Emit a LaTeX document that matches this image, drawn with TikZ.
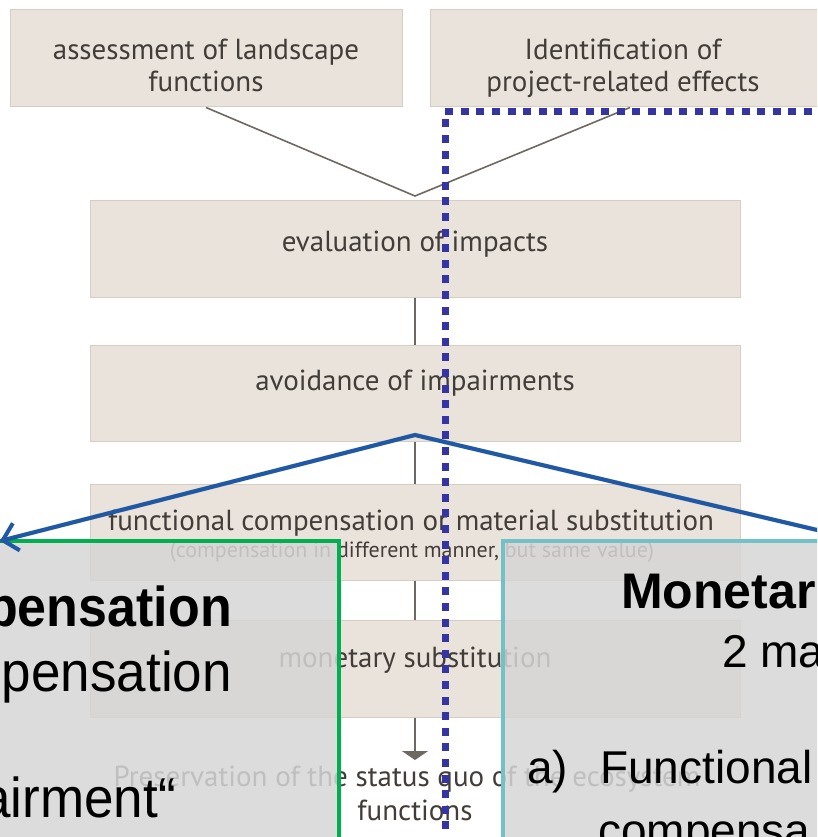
\documentclass[tikz,border=0pt]{standalone}
\usepackage{fontspec}
\setmainfont{PT Sans}
\newfontfamily\arialf{Liberation Sans}
\usetikzlibrary{arrows.meta}
\definecolor{boxfill}{HTML}{E9E3DB}
\definecolor{boxline}{HTML}{D6CEC5}
\definecolor{boxtext}{HTML}{433D39}
\definecolor{connc}{HTML}{6E6863}
\definecolor{arrblue}{HTML}{1F58A5}
\definecolor{dotblue}{HTML}{3434A2}
\definecolor{grn}{HTML}{00B050}
\definecolor{tealb}{HTML}{72C1C9}
\definecolor{panelgray}{HTML}{D6D6D6}
\begin{document}
\begin{tikzpicture}[x=1pt,y=-1pt,
  box/.style={draw=boxline, line width=1pt, fill=boxfill, inner sep=0pt},
  dtext/.style={text=boxtext, inner sep=0pt, font=\fontsize{29}{33}\selectfont},
  subtext/.style={text=boxtext, inner sep=0pt, font=\fontsize{22}{25}\selectfont},
  conn/.style={draw=connc, line width=1.6pt},
  panel/.style={fill=panelgray, fill opacity=0.85},
  ptext/.style={inner sep=0pt, text=black, font=\arialf\fontsize{46}{52}\selectfont},
  ptextb/.style={inner sep=0pt, text=black, font=\arialf\bfseries\fontsize{50}{56}\selectfont},
  ltext/.style={inner sep=0pt, text=black, font=\arialf\fontsize{53}{58}\selectfont},
  ltextb/.style={inner sep=0pt, text=black, font=\arialf\bfseries\fontsize{52}{58}\selectfont},
  bluearr/.style={draw=arrblue, line width=4pt},
  shadowarr/.style={draw=black, opacity=0.18, line width=4.5pt},
  dotline/.style={draw=dotblue, line width=7pt, dash pattern=on 8pt off 7.6pt}
]
\useasboundingbox (0,0) rectangle (817,837);
\clip (0,0) rectangle (817,837);
\fill[white] (0,0) rectangle (817,837);

% boxes
\node[box, minimum width=392pt, minimum height=97pt] (b1) at (206,58.5) {};
\node[box, minimum width=400pt, minimum height=97pt] (b2) at (630,58.5) {};
\node[box, minimum width=650pt, minimum height=97pt] (b3) at (415,248.5) {};
\node[box, minimum width=650pt, minimum height=96pt] (b4) at (415,393) {};
\node[box, minimum width=650pt, minimum height=96pt] (b5) at (415,532) {};
\node[box, minimum width=650pt, minimum height=97pt] (b6) at (415,668.5) {};

% box texts
\node[dtext, anchor=base] (t1a) at (206,60) {assessment of landscape};
\node[dtext, anchor=base] (t1b) at (206,92) {functions};
\node[dtext, anchor=base] (t2a) at (623,60) {Identification of};
\node[dtext, anchor=base] (t2b) at (623,92) {project-related effects};
\node[dtext, anchor=base] (t3) at (415,251) {evaluation of impacts};
\node[dtext, anchor=base] (t4) at (415,390) {avoidance of impairments};
\node[dtext, anchor=base] (t5a) at (411,530) {functional compensation or material substitution};
\node[subtext, anchor=base] (t5b) at (412,557) {(compensation in different manner, but same value)};
\node[dtext, anchor=base] (t6) at (415,667) {monetary substitution};
\node[dtext, anchor=base] (t7a) at (407,786) {Preservation of the status quo of the ecosystem};
\node[dtext, anchor=base] (t7b) at (415,820) {functions};

% connectors
\coordinate (v) at (415,196);
\draw[conn] (b1.south) -- (v) -- (b2.south);
\draw[conn] (b3.south) -- (b4.north);
\draw[conn] (b4.south) -- (b5.north);
\draw[conn] (b5.south) -- (b6.north);
\coordinate (pres) at (415,760);
\draw[conn, -{Triangle[width=26pt,length=9pt]}] (b6.south) -- (pres);

% overlay panels
\fill[panel] (-10,541) rectangle (339,850);
\draw[grn, line width=4pt] (-10,541) -- (339,541) -- (339,850);
\fill[panel] (503,541) rectangle (830,850);
\draw[tealb, line width=4.5pt] (503,850) -- (503,541) -- (830,541);

% blue arrows
\coordinate (apex) at (415,435);
\coordinate (lt) at (0,541);
\coordinate (rt) at (840,535.4);
\begin{scope}[shift={(1.5,2.5)}]
\draw[shadowarr] (lt) -- (apex) -- (rt);
\end{scope}
\draw[bluearr, line join=miter, -{Straight Barb[length=14pt,width=28pt]}] (rt) -- (apex) -- (lt);

% panel texts
\node[ltextb, anchor=base east] (l1) at (232,626) {\scalebox{1}[1.08]{pensation}};
\node[ltext, anchor=base east] (l2) at (232,691) {\scalebox{1}[1.06]{pensation}};
\node[ltext, anchor=base east] (l3) at (176,817) {\scalebox{1}[1.06]{airment“}};
\node[ptextb, anchor=base west] (r1) at (621,608) {Monetar};
\node[ptext, anchor=base west] (r2) at (722,667) {2 ma};
\node[ptext, anchor=base west] (r3) at (527,783) {a)};
\node[ptext, anchor=base west] (r4) at (600,783) {Functional};
\node[ptext, anchor=base west] (r5) at (598,846) {compensa};

% dotted line
\coordinate (d0) at (445,845);
\coordinate (d1) at (445,112);
\coordinate (d2) at (830,112);
\draw[dotline] (d0) -- (d1) -- (d2);
\end{tikzpicture}
\end{document}
